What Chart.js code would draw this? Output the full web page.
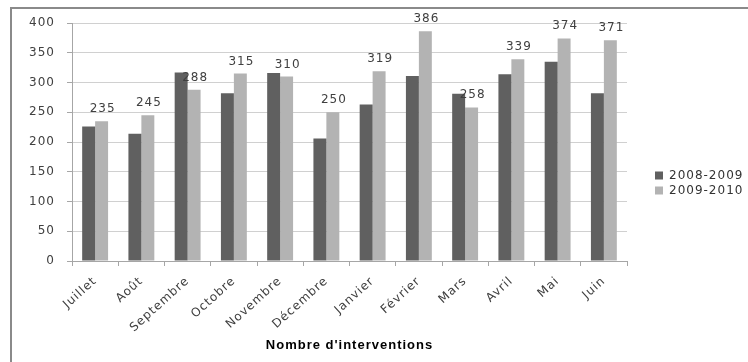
<!DOCTYPE html>
<html lang="fr">
<head>
<meta charset="utf-8">
<title>Nombre d'interventions</title>
<script src="https://cdn.jsdelivr.net/npm/chart.js@4/dist/chart.umd.min.js"></script>
<style>
  html, body { margin: 0; padding: 0; background: #ffffff; }
  #wrap { position: relative; width: 748px; height: 362px; overflow: hidden; }
</style>
</head>
<body>
<div id="wrap"><canvas id="chart" width="748" height="362"></canvas></div>
<script>
// Monthly intervention counts, two seasons
const months = ['Juillet', 'Août', 'Septembre', 'Octobre', 'Novembre', 'Décembre',
                'Janvier', 'Février', 'Mars', 'Avril', 'Mai', 'Juin'];
const season0809 = [226, 214, 317, 282, 316, 206, 263, 311, 281, 314, 335, 282];
const season0910 = [235, 245, 288, 315, 310, 250, 319, 386, 258, 339, 374, 371];
const seriesNames = ['2008-2009', '2009-2010'];
const yMin = 0, yMax = 400, yStep = 50;
const axisTitle = "Nombre d'interventions";

const FONT = 'DejaVu Sans';
const TEXT = '#404040';
const SPACING = '1px';

// Wide, airy lettering for every text on the canvas
const spacingPlugin = {
  id: 'spacing',
  beforeInit(chart) { chart.ctx.letterSpacing = SPACING; },
  beforeUpdate(chart) { chart.ctx.letterSpacing = SPACING; },
  beforeDraw(chart) { chart.ctx.letterSpacing = SPACING; }
};

// Outer frame around the chart object
const framePlugin = {
  id: 'frame',
  beforeDraw(chart) {
    const ctx = chart.ctx;
    ctx.save();
    ctx.fillStyle = '#ffffff';
    ctx.fillRect(0, 0, chart.width, chart.height);
    ctx.strokeStyle = '#8a8a8a';
    ctx.lineWidth = 2;
    ctx.strokeRect(11, 8, chart.width + 20, chart.height + 20);
    ctx.restore();
  }
};

// Value labels above the 2009-2010 bars
const valueLabels = {
  id: 'valueLabels',
  afterDatasetsDraw(chart) {
    const ctx = chart.ctx;
    const meta = chart.getDatasetMeta(1);
    ctx.save();
    ctx.font = '12px "' + FONT + '"';
    ctx.fillStyle = TEXT;
    ctx.textAlign = 'center';
    ctx.textBaseline = 'alphabetic';
    meta.data.forEach((bar, i) => {
      ctx.fillText(String(chart.data.datasets[1].data[i]), bar.x + 1, bar.y - 9);
    });
    ctx.restore();
  }
};

// Legend to the right of the plot area
const sideLegend = {
  id: 'sideLegend',
  afterDraw(chart) {
    const ctx = chart.ctx;
    const area = chart.chartArea;
    const x0 = area.right + 28;
    const yc = chart.height / 2 + 2;
    ctx.save();
    ctx.font = '12px "' + FONT + '"';
    ctx.textAlign = 'left';
    ctx.textBaseline = 'middle';
    chart.data.datasets.forEach((ds, i) => {
      const y = yc + (i - 0.5) * 15;
      ctx.fillStyle = ds.backgroundColor;
      ctx.fillRect(x0, y - 4, 8, 8);
      ctx.fillStyle = '#333333';
      ctx.fillText(ds.label, x0 + 14, y);
    });
    ctx.restore();
  }
};

new Chart(document.getElementById('chart'), {
  type: 'bar',
  data: {
    labels: months,
    datasets: [
      { label: seriesNames[0], data: season0809, backgroundColor: '#606060' },
      { label: seriesNames[1], data: season0910, backgroundColor: '#b3b3b3' }
    ]
  },
  options: {
    responsive: false,
    animation: false,
    devicePixelRatio: 1,
    layout: { padding: { left: 0, top: 23, right: 121, bottom: 0 } },
    datasets: { bar: { categoryPercentage: 0.56, barPercentage: 1.0, borderWidth: 0 } },
    plugins: {
      legend: { display: false },
      tooltip: { enabled: false }
    },
    scales: {
      x: {
        afterFit(scale) { scale.height = 101; },
        grid: { drawOnChartArea: false, drawTicks: true, tickLength: 5, color: '#a6a6a6' },
        border: { color: '#a6a6a6', width: 1 },
        ticks: {
          autoSkip: false, minRotation: 42, maxRotation: 42, padding: 8,
          color: TEXT, font: { family: FONT, size: 12 }
        },
        title: {
          display: true, text: axisTitle, color: '#000000',
          font: { family: 'Liberation Sans', size: 13, weight: 'bold' },
          padding: { top: 0, bottom: 9 }
        }
      },
      y: {
        min: yMin, max: yMax,
        afterFit(scale) { scale.width = 72; },
        grid: { color: '#d0d0d0', tickColor: '#a6a6a6', tickLength: 5 },
        border: { color: '#a6a6a6', width: 1 },
        ticks: { stepSize: yStep, padding: 12, color: TEXT, font: { family: FONT, size: 12 } }
      }
    }
  },
  plugins: [spacingPlugin, framePlugin, valueLabels, sideLegend]
});
</script>
</body>
</html>
